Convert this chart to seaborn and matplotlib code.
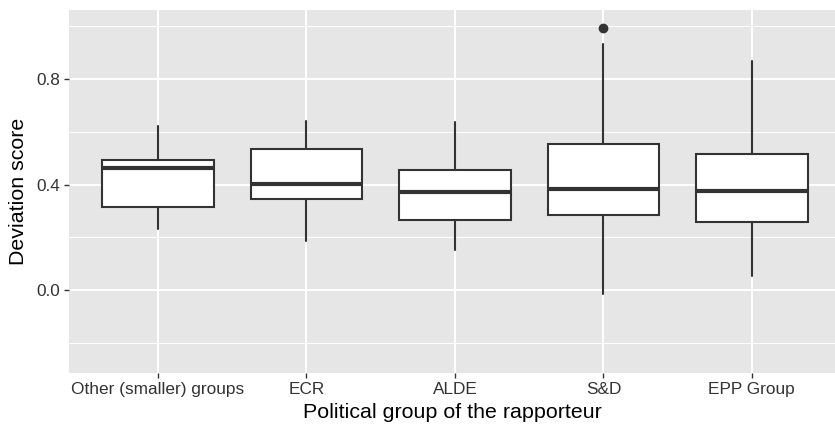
import matplotlib
matplotlib.use("Agg")
import matplotlib.pyplot as plt
import seaborn as sns

# summary statistics
groups = ["Other (smaller) groups", "ECR", "ALDE", "S&D", "EPP Group"]
whisker_low = [0.231, 0.187, 0.152, -0.015, 0.052]
q1 = [0.313, 0.344, 0.265, 0.283, 0.259]
median = [0.461, 0.403, 0.370, 0.382, 0.377]
q3 = [0.492, 0.536, 0.454, 0.554, 0.516]
whisker_high = [0.623, 0.641, 0.636, 0.933, 0.868]
outliers = [[], [], [], [0.992], []]

sns.set_theme(style="darkgrid", rc={
    "axes.facecolor": "#E6E6E6",
    "figure.facecolor": "white",
    "grid.color": "white",
})
plt.rcParams['font.family'] = ['Liberation Sans', 'DejaVu Sans']

fig = plt.figure(figsize=(8.35, 4.26), dpi=100)
ax = fig.add_axes([0.0826, 0.1244, 0.9174, 0.8521])

stats = []
for i, g in enumerate(groups):
    stats.append(dict(label=g, whislo=whisker_low[i], q1=q1[i], med=median[i],
                      q3=q3[i], whishi=whisker_high[i], fliers=outliers[i]))

line_col = "#333333"
ax.bxp(stats, positions=range(len(groups)), widths=0.75, patch_artist=True,
       showcaps=False,
       boxprops=dict(facecolor="white", edgecolor=line_col, linewidth=1.5),
       medianprops=dict(color=line_col, linewidth=3),
       whiskerprops=dict(color=line_col, linewidth=1.5),
       flierprops=dict(marker="o", markerfacecolor=line_col,
                       markeredgecolor=line_col, markersize=6))

ax.set_xlim(-0.6, 4.56)
ax.set_ylim(-0.315, 1.062)
ax.set_yticks([0.0, 0.4, 0.8])
ax.set_yticklabels(["0.0", "0.4", "0.8"])
ax.set_yticks([-0.2, 0.2, 0.6, 1.0], minor=True)
ax.set_axisbelow(True)
ax.grid(which="major", color="white", linewidth=1.4)
ax.grid(which="minor", axis="y", color="white", linewidth=0.7)
ax.grid(which="minor", axis="x", visible=False)

ax.tick_params(axis="both", which="major", bottom=True, left=True, length=3.5,
               width=1, color=line_col, direction="out", labelsize=12.4,
               labelcolor="#333333", pad=3)
ax.tick_params(axis="both", which="minor", length=0)
for s in ax.spines.values():
    s.set_visible(False)

ax.set_xlabel("Political group of the rapporteur", fontsize=15.4, labelpad=4, color="black")
ax.set_ylabel("Deviation score", fontsize=15.4, labelpad=6, color="black")

fig.savefig("out.png", dpi=100)
